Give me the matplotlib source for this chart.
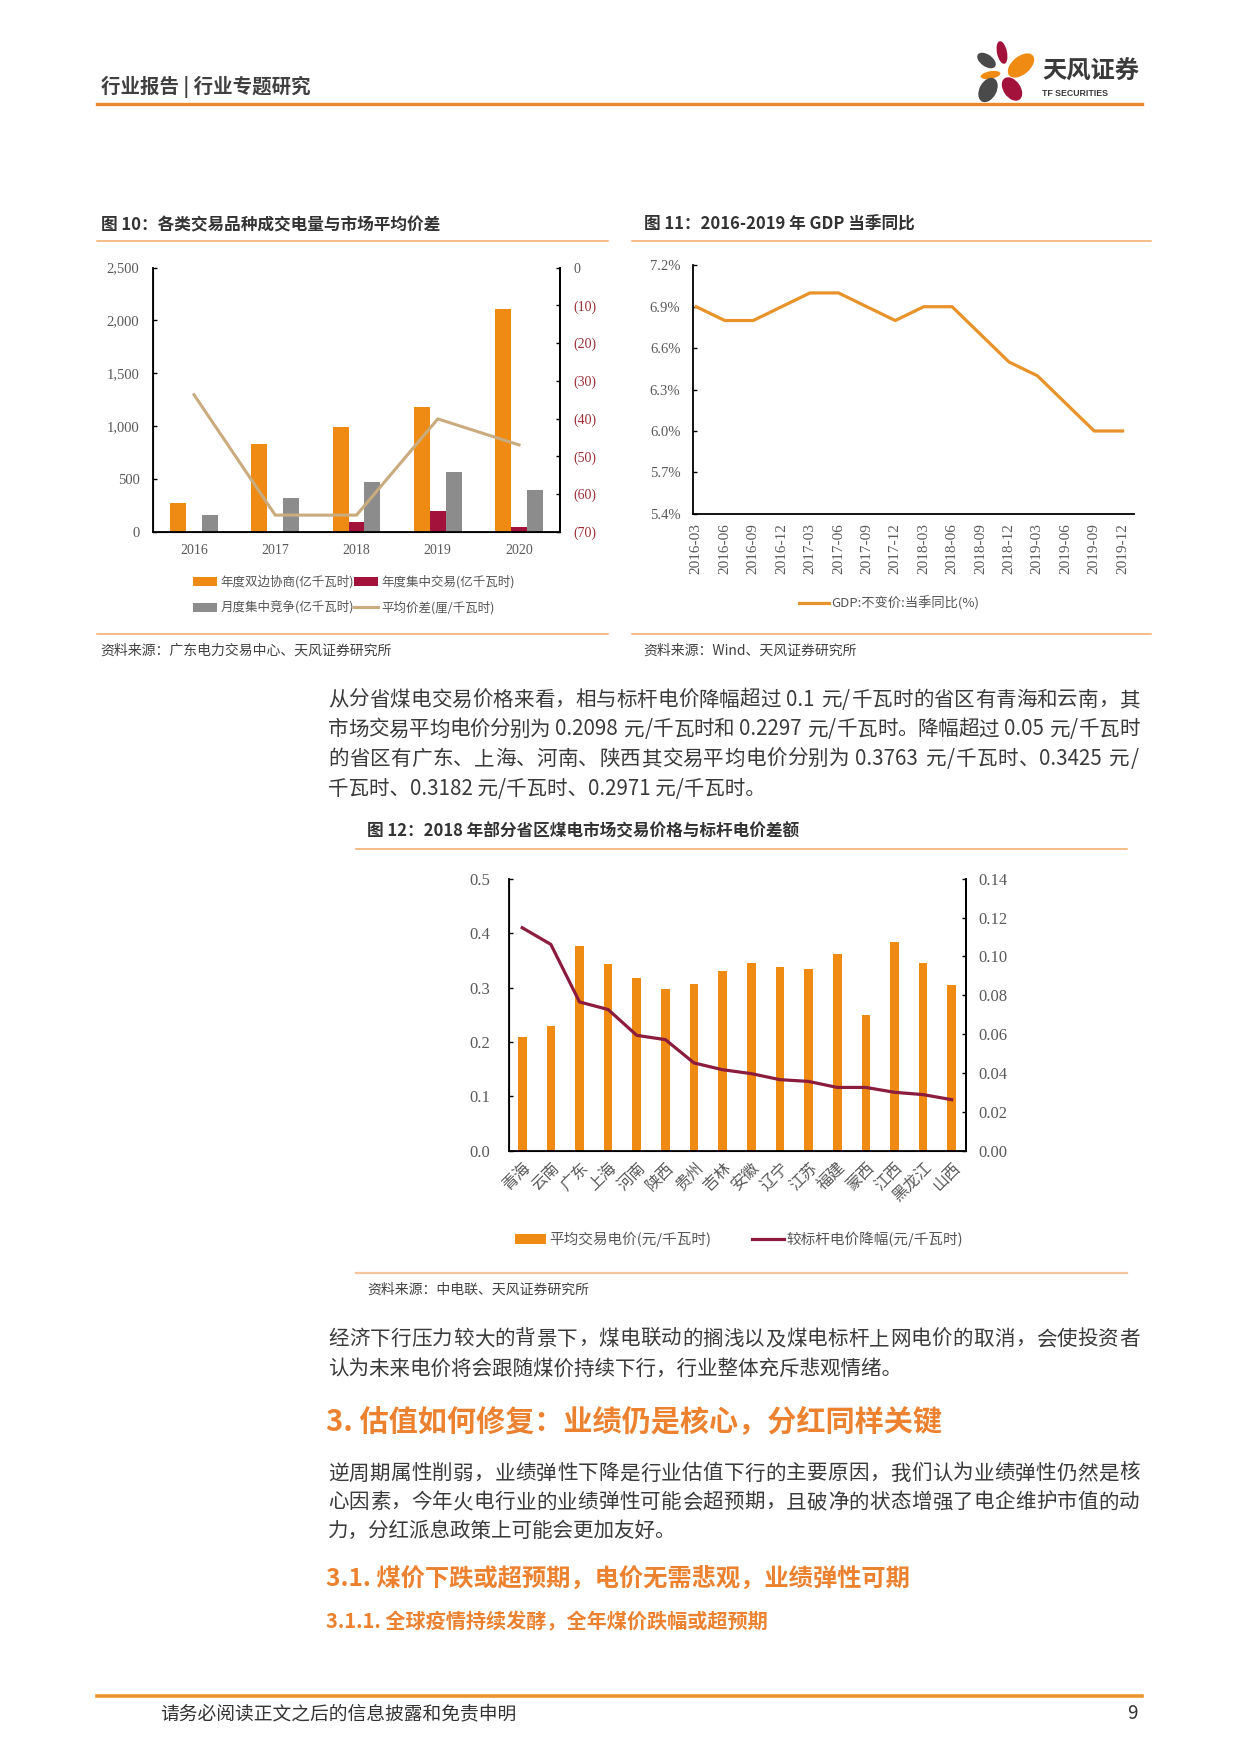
import numpy as np
import matplotlib
matplotlib.use('Agg')
import matplotlib.pyplot as plt
from matplotlib.patches import Ellipse, Rectangle
from matplotlib.lines import Line2D
from matplotlib.font_manager import FontProperties
from matplotlib.transforms import Affine2D

# ---------------- data ----------------
years = ['2016', '2017', '2018', '2019', '2020']
bilateral = [270, 830, 995, 1185, 2112]
centralized = [0, 0, 92, 196, 44]
monthly = [158, 320, 472, 567, 396]
avg_spread = [-33.7, -65.6, -65.6, -40.1, -47.0]
fig10_series = ['年度双边协商(亿千瓦时)', '年度集中交易(亿千瓦时)',
                '月度集中竞争(亿千瓦时)', '平均价差(厘/千瓦时)']
fig10_left_ticks = [0, 500, 1000, 1500, 2000, 2500]
fig10_right_ticks = [-70, -60, -50, -40, -30, -20, -10, 0]

quarters = ['2016-03', '2016-06', '2016-09', '2016-12', '2017-03', '2017-06',
            '2017-09', '2017-12', '2018-03', '2018-06', '2018-09', '2018-12',
            '2019-03', '2019-06', '2019-09', '2019-12']
gdp_yoy = [6.9, 6.8, 6.8, 6.9, 7.0, 7.0, 6.9, 6.8, 6.9, 6.9, 6.7, 6.5, 6.4, 6.2, 6.0, 6.0]
fig11_series = 'GDP:不变价:当季同比(%)'
fig11_ticks = [5.4, 5.7, 6.0, 6.3, 6.6, 6.9, 7.2]

provinces = ['青海', '云南', '广东', '上海', '河南', '陕西', '贵州', '吉林', '安徽',
             '辽宁', '江苏', '福建', '蒙西', '江西', '黑龙江', '山西']
avg_price = [0.2098, 0.2297, 0.3763, 0.3425, 0.3182, 0.2971, 0.306, 0.331, 0.346,
             0.338, 0.335, 0.362, 0.249, 0.384, 0.346, 0.304]
price_drop = [0.1148, 0.1062, 0.0766, 0.0727, 0.0594, 0.0572, 0.0452, 0.0417, 0.0397,
              0.0366, 0.0357, 0.0326, 0.0326, 0.0301, 0.0289, 0.0263]
fig12_series = ['平均交易电价(元/千瓦时)', '较标杆电价降幅(元/千瓦时)']
fig12_left_ticks = [0.0, 0.1, 0.2, 0.3, 0.4, 0.5]
fig12_right_ticks = [0.00, 0.02, 0.04, 0.06, 0.08, 0.10, 0.12, 0.14]

header_text = '行业报告 | 行业专题研究'
title10 = '图 10：各类交易品种成交电量与市场平均价差'
title11 = '图 11：2016-2019 年 GDP 当季同比'
title12 = '图 12：2018 年部分省区煤电市场交易价格与标杆电价差额'
source10 = '资料来源：广东电力交易中心、天风证券研究所'
source11 = '资料来源：Wind、天风证券研究所'
source12 = '资料来源：中电联、天风证券研究所'
para1 = ['从分省煤电交易价格来看，相与标杆电价降幅超过 0.1 元/千瓦时的省区有青海和云南，其',
         '市场交易平均电价分别为 0.2098 元/千瓦时和 0.2297 元/千瓦时。降幅超过 0.05 元/千瓦时',
         '的省区有广东、上海、河南、陕西其交易平均电价分别为 0.3763 元/千瓦时、0.3425 元/',
         '千瓦时、0.3182 元/千瓦时、0.2971 元/千瓦时。']
para2 = ['经济下行压力较大的背景下，煤电联动的搁浅以及煤电标杆上网电价的取消，会使投资者',
         '认为未来电价将会跟随煤价持续下行，行业整体充斥悲观情绪。']
heading1 = '3. 估值如何修复：业绩仍是核心，分红同样关键'
para3 = ['逆周期属性削弱，业绩弹性下降是行业估值下行的主要原因，我们认为业绩弹性仍然是核',
         '心因素，今年火电行业的业绩弹性可能会超预期，且破净的状态增强了电企维护市值的动',
         '力，分红派息政策上可能会更加友好。']
heading2 = '3.1. 煤价下跌或超预期，电价无需悲观，业绩弹性可期'
heading3 = '3.1.1. 全球疫情持续发酵，全年煤价跌幅或超预期'
footer_text = '请务必阅读正文之后的信息披露和免责申明'
page_no = '9'

# ---------------- style ----------------
CJK = ['Noto Sans CJK SC', 'DejaVu Sans']
NUM = ['Liberation Serif', 'DejaVu Serif']
plt.rcParams['font.family'] = CJK
C_OR = '#EF8A12'
C_CR = '#A3123A'
C_GR = '#8C8C8C'
C_TAN = '#C9AB7E'
C_GDP = '#E8922A'
C_LINE12 = '#8B1C3E'
C_HEAD = '#EC8230'
C_RULE = '#F2A96A'
C_TICK = '#595959'
C_TEXT = '#3A3A3A'

fig = plt.figure(figsize=(12.41, 17.54), dpi=100)
DW = 1108.6
DH = DW * 1754 / 1241
S = 1241 / DW
tr = Affine2D().scale(1 / DW, -1 / DH).translate(0, 1) + fig.transFigure


def axes_at(l, t, r, b):
    return fig.add_axes([l / DW, 1 - b / DH, (r - l) / DW, (b - t) / DH])


def T(x, y, s, **kw):
    kw.setdefault('va', 'center')
    kw.setdefault('ha', 'left')
    return fig.text(x, y, s, transform=tr, **kw)


def hline(x0, x1, y, color, lw):
    fig.add_artist(Line2D([x0, x1], [y, y], transform=tr, color=color, lw=lw))


renderer = fig.canvas.get_renderer()


def tokens(s):
    out, buf = [], ''
    for ch in s:
        if ord(ch) < 128 and ch != ' ':
            buf += ch
        else:
            if buf:
                out.append(buf)
                buf = ''
            out.append(ch)
    if buf:
        out.append(buf)
    return out


def text_line(x0, x1, y, s, fs, color, justify=True, weight='normal'):
    fp = FontProperties(family=CJK, size=fs, weight=weight)
    em = fs * 100 / 72 / S
    base = y + 0.36 * em
    if not justify:
        fig.text(x0, base, s, transform=tr, fontproperties=fp, color=color,
                 va='baseline', ha='left')
        return
    toks = tokens(s)
    ws = []
    for t in toks:
        if t == ' ':
            ws.append(0.27 * em)
        elif len(t) == 1 and ord(t) >= 0x2E80:
            ws.append(em)
        else:
            ws.append(renderer.get_text_width_height_descent(t, fp, ismath=False)[0] / S + 0.06 * em)
    extra = (x1 - x0 - sum(ws)) / max(1, len(toks) - 1)
    x = x0
    for t, w in zip(toks, ws):
        if t != ' ':
            fig.text(x, base, t, transform=tr, fontproperties=fp, color=color,
                     va='baseline', ha='left')
        x += w + extra


def paragraph(lines, x0, x1, y0, dy, fs=14.8):
    for i, ln in enumerate(lines):
        text_line(x0, x1, y0 + i * dy, ln, fs, C_TEXT, justify=(i < len(lines) - 1))


# ---------------- header ----------------
T(90, 78, header_text, fontsize=14, weight='bold', color='#404040')
hline(87, 1020, 92.5, '#E9882E', 2.4)

lg = fig.add_axes([958 / 1241, 1 - 110 / 1754, 82 / 1241, 75 / 1754])
lg.set_xlim(958, 1040)
lg.set_ylim(110, 35)
lg.axis('off')
petals = [((986.5, 60.5), 21, 12, 35, '#4A4A4A'),
          ((1002, 52.5), 23, 10, 78, '#A3123A'),
          ((1021, 65.5), 31, 18, -40, '#EF8A12'),
          ((990.5, 75), 20, 7.5, -10, '#EF8A12'),
          ((988, 90), 26, 17, -62, '#4A4A4A'),
          ((1012, 89), 26, 17, 55, '#A3123A')]
for c, w, h, a, col in petals:
    lg.add_patch(Ellipse(c, w, h, angle=a, color=col, lw=0))
T(1042 / S, 72 / S, '天风证券', fontsize=17.5, weight='bold', color='#3A3A3A')
T(1042 / S, 94 / S, 'TF SECURITIES', fontsize=6.3, weight='bold', color='#3A3A3A',
  family=['Liberation Sans', 'DejaVu Sans'])

# ---------------- figure 10 ----------------
T(90, 201, title10, fontsize=12, weight='bold', color='#333333')
hline(87, 543, 215, C_RULE, 1.1)

ax = axes_at(137, 239, 500, 475)
x = np.arange(len(years))
bw = 0.195
ax.bar(x - bw, bilateral, bw, color=C_OR, zorder=2)
ax.bar(x, centralized, bw, color=C_CR, zorder=2)
ax.bar(x + bw, monthly, bw, color=C_GR, zorder=2)
ax.set_xlim(-0.5, len(years) - 0.5)
ax.set_ylim(0, 2500)
ax.set_yticks(fig10_left_ticks)
ax.set_yticklabels([f'{v:,}' for v in fig10_left_ticks], fontfamily=NUM, fontsize=10.5, color=C_TICK)
ax.set_xticks(x)
ax.set_xticklabels(years, fontfamily=NUM, fontsize=10, color=C_TICK)
ax.tick_params(axis='y', direction='in', length=3, width=1, pad=10)
ax.tick_params(axis='x', length=0, pad=8.5)
ax.spines['top'].set_visible(False)
for s in ['left', 'right', 'bottom']:
    ax.spines[s].set_linewidth(1.3)
ax2 = ax.twinx()
ax2.plot(x, avg_spread, color=C_TAN, lw=2.2, zorder=3)
ax2.set_ylim(-70, 0)
ax2.set_yticks(fig10_right_ticks)
ax2.set_yticklabels(['0' if v == 0 else f'({-v})' for v in fig10_right_ticks],
                    fontfamily=NUM, fontsize=10)
for lab, v in zip(ax2.get_yticklabels(), fig10_right_ticks):
    lab.set_color(C_TICK if v == 0 else '#9B2C35')
ax2.tick_params(axis='y', direction='in', length=3, width=1, pad=10)
ax2.spines['top'].set_visible(False)
ax2.spines['right'].set_linewidth(1.3)

# legend (manual)
leg_cols = [C_OR, C_CR, C_GR, C_TAN]
leg_pos = [(172, 519.5), (316, 519.5), (172, 542.5), (316, 542.5)]
for (lx, ly), col, lab, i in zip(leg_pos, leg_cols, fig10_series, range(4)):
    if i < 3:
        fig.add_artist(Rectangle((lx, ly - 4), 22, 8, transform=tr, color=col, lw=0))
    else:
        hline(lx, lx + 22, ly, col, 2.2)
    T(lx + 25, ly, lab, fontsize=9, color='#555555')

hline(87, 543, 566.5, C_RULE, 1.1)
T(90, 581, source10, fontsize=10, color='#404040')

# ---------------- figure 11 ----------------
T(575, 201, title11, fontsize=12, weight='bold', color='#333333')
hline(565, 1028, 215, C_RULE, 1.1)

ax3 = axes_at(619, 237, 1013, 459)
xq = np.arange(len(quarters))
ax3.plot(xq, gdp_yoy, color=C_GDP, lw=2.3)
ax3.set_xlim(-0.12, len(quarters) - 0.6)
ax3.set_ylim(5.4, 7.2)
ax3.set_yticks(fig11_ticks)
ax3.set_yticklabels([f'{v:.1f}%' for v in fig11_ticks], fontfamily=NUM, fontsize=10.5, color=C_TICK)
ax3.set_xticks(xq)
ax3.set_xticklabels(quarters, rotation=90, fontfamily=NUM, fontsize=11, color=C_TICK)
ax3.tick_params(axis='y', direction='in', length=3, width=1, pad=9)
ax3.tick_params(axis='x', length=0, pad=7)
for s in ['top', 'right']:
    ax3.spines[s].set_visible(False)
for s in ['left', 'bottom']:
    ax3.spines[s].set_linewidth(1.3)

hline(714, 741, 539, C_GDP, 2.3)
T(743, 539, fig11_series, fontsize=9.5, color='#555555')

hline(565, 1028, 566.5, C_RULE, 1.1)
T(575, 581, source11, fontsize=10, color='#404040')

# ---------------- body paragraph ----------------
paragraph(para1, 293, 1018, 624, 26.4)

# ---------------- figure 12 ----------------
T(328, 743, title12, fontsize=12, weight='bold', color='#333333')
hline(318, 1007, 758, C_RULE, 1.1)

ax4 = axes_at(455, 785, 863, 1028)
xp = np.arange(len(provinces))
ax4.bar(xp, avg_price, 0.3, color=C_OR, zorder=2)
ax4.set_xlim(-0.45, len(provinces) - 0.5)
ax4.set_ylim(0, 0.5)
ax4.set_yticks(fig12_left_ticks)
ax4.set_yticklabels([f'{v:.1f}' for v in fig12_left_ticks], fontfamily=NUM, fontsize=12, color=C_TICK)
ax4.set_xticks(xp)
ax4.set_xticklabels(provinces, rotation=45, ha='right', va='top', rotation_mode='anchor',
                    fontsize=11.5, color=C_TICK)
ax4.tick_params(axis='y', direction='in', length=3, width=1, pad=14)
ax4.tick_params(axis='x', length=0, pad=6)
ax4.spines['top'].set_visible(False)
for s in ['left', 'right', 'bottom']:
    ax4.spines[s].set_linewidth(1.3)
ax5 = ax4.twinx()
ax5.plot(xp, price_drop, color=C_LINE12, lw=2.3, zorder=3)
ax5.set_ylim(0, 0.14)
ax5.set_yticks(fig12_right_ticks)
ax5.set_yticklabels([f'{v:.2f}' for v in fig12_right_ticks], fontfamily=NUM, fontsize=12, color=C_TICK)
ax5.tick_params(axis='y', direction='in', length=3, width=1, pad=9)
ax5.spines['top'].set_visible(False)
ax5.spines['right'].set_linewidth(1.3)

fig.add_artist(Rectangle((460, 1102.5), 28, 9, transform=tr, color=C_OR, lw=0))
T(491, 1107, fig12_series[0], fontsize=10.5, color='#555555')
hline(672, 700, 1107, C_LINE12, 2.3)
T(703, 1107, fig12_series[1], fontsize=10.5, color='#555555')

hline(318, 1007, 1137, '#F5C59B', 1.6)
T(328, 1152, source12, fontsize=10, color='#404040')

# ---------------- remaining text ----------------
paragraph(para2, 293, 1018, 1195, 26.4)
T(291, 1270, heading1, fontsize=21, weight='bold', color=C_HEAD)
paragraph(para3, 293, 1018, 1315, 25.8)
T(291, 1410, heading2, fontsize=17.5, weight='bold', color=C_HEAD)
T(291, 1449, heading3, fontsize=14.5, weight='bold', color=C_HEAD)

hline(87, 1020, 1515, '#E9952E', 2.6)
T(143, 1531, footer_text, fontsize=13.5, color='#333333')
T(1016, 1531, page_no, fontsize=13.5, color='#333333', ha='right')

fig.savefig('out.png', dpi=100)
